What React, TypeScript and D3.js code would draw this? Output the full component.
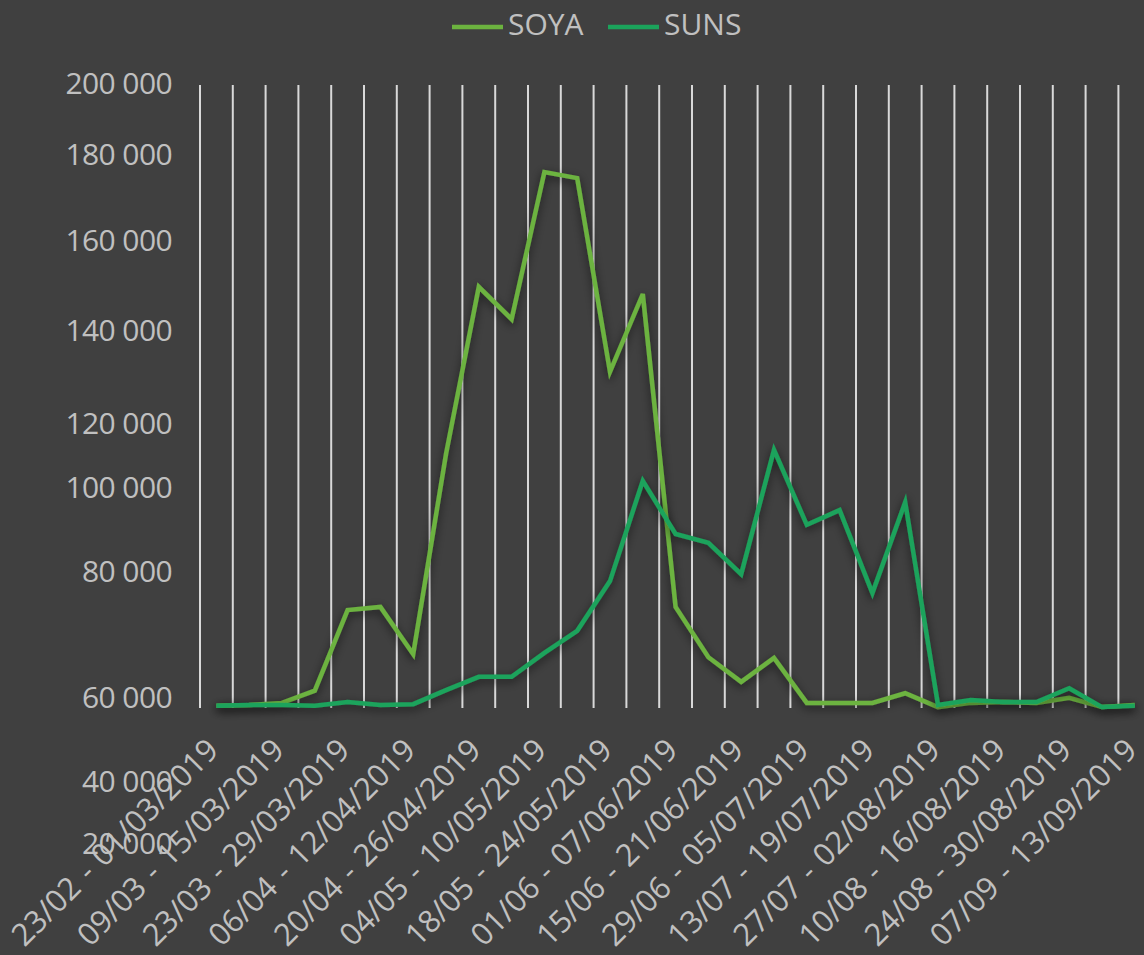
import React from 'react';
import * as d3 from 'd3';

// weekly buckets, one every 7 days
const categories: string[] = [
  '23/02 - 01/03/2019',
  '02/03 - 08/03/2019',
  '09/03 - 15/03/2019',
  '16/03 - 22/03/2019',
  '23/03 - 29/03/2019',
  '30/03 - 05/04/2019',
  '06/04 - 12/04/2019',
  '13/04 - 19/04/2019',
  '20/04 - 26/04/2019',
  '27/04 - 03/05/2019',
  '04/05 - 10/05/2019',
  '11/05 - 17/05/2019',
  '18/05 - 24/05/2019',
  '25/05 - 31/05/2019',
  '01/06 - 07/06/2019',
  '08/06 - 14/06/2019',
  '15/06 - 21/06/2019',
  '22/06 - 28/06/2019',
  '29/06 - 05/07/2019',
  '06/07 - 12/07/2019',
  '13/07 - 19/07/2019',
  '20/07 - 26/07/2019',
  '27/07 - 02/08/2019',
  '03/08 - 09/08/2019',
  '10/08 - 16/08/2019',
  '17/08 - 23/08/2019',
  '24/08 - 30/08/2019',
  '31/08 - 06/09/2019',
  '07/09 - 13/09/2019',
];

const soya: number[] = [
  57900, 58100, 58600, 61000, 73800, 74300, 66800, 110300, 149600, 142400,
  175800, 174400, 131000, 148000, 74300, 66300, 62400, 66200, 58600, 58600,
  58600, 60600, 57600, 58600, 58800, 58600, 59800, 57600, 58100,
];

const suns: number[] = [
  57900, 58100, 58100, 57900, 58800, 58100, 58300, 61100, 63200, 63200,
  67000, 70500, 78400, 101900, 88800, 86700, 79500, 111600, 91000, 94500,
  76500, 96400, 58100, 59300, 58800, 58800, 61400, 57600, 57900,
];

const yTicks: number[] = [20000, 40000, 60000, 80000, 100000, 120000, 140000, 160000, 180000, 200000];

// where each y tick sits on the page (the axis is not evenly spaced)
const yTickPos = [843, 781, 697, 571, 487, 423, 330, 240, 154, 83];

const W = 1144;
const H = 955;
const plotLeft = 200;
const step = 32.8;
const plotTop = 85;
const plotBottom = 708;

const bg = '#404040';
const textColor = '#c0c0c0';
const gridColor = '#d9d9d9';
const soyaColor = '#6cb33f';
const sunsColor = '#1ba35b';
const font = '"Open Sans", sans-serif';

const fmt = (v: number) => d3.format(',')(v).replace(/,/g, ' ');

export default function App() {
  const x = d3
    .scaleBand<string>()
    .domain(categories)
    .range([plotLeft, plotLeft + step * categories.length]);
  const y = d3.scaleLinear().domain(yTicks).range(yTickPos);

  const cx = (i: number) => (x(categories[i]) ?? 0) + x.bandwidth() / 2;
  const line = d3
    .line<number>()
    .x((_, i) => cx(i))
    .y((d) => y(d));

  const edges = categories.map((c) => x(c) ?? 0).concat([x.range()[1]]);

  const series = [
    { name: 'SOYA', values: soya, color: soyaColor, lx: 452 },
    { name: 'SUNS', values: suns, color: sunsColor, lx: 608 },
  ];

  return (
    <svg
      width={W}
      height={H}
      style={{ position: 'absolute', left: 0, top: 0, background: bg }}
      fontFamily={font}
    >
      <defs>
        <filter id="shadow" x="-10%" y="-10%" width="120%" height="120%">
          <feDropShadow dx="0" dy="3" stdDeviation="5" floodColor="#000" floodOpacity="0.6" />
        </filter>
      </defs>
      <rect width={W} height={H} fill={bg} />

      {/* vertical gridlines between categories */}
      {edges.map((ex, i) => (
        <line key={i} x1={ex} x2={ex} y1={plotTop} y2={plotBottom} stroke={gridColor} strokeWidth={2} />
      ))}

      {/* y labels */}
      {yTicks.map((t) => (
        <text key={t} x={172} y={y(t) + 11} textAnchor="end" fontSize={30} fill={textColor} letterSpacing={-0.6}>
          {fmt(t)}
        </text>
      ))}

      {/* series */}
      {series.map((s) => (
        <path
          key={s.name}
          d={line(s.values) ?? ''}
          fill="none"
          stroke={s.color}
          strokeWidth={4.5}
          strokeLinejoin="miter"
          filter="url(#shadow)"
        />
      ))}

      {/* x labels, every other week */}
      {categories.map((c, i) =>
        i % 2 === 0 ? (
          <text
            key={c}
            transform={`translate(${cx(i) + 4},752) rotate(-45)`}
            textAnchor="end"
            fontSize={31}
            fill={textColor}
            wordSpacing={2}
          >
            {c}
          </text>
        ) : null
      )}

      {/* legend */}
      {series.map((s) => (
        <g key={s.name}>
          <line x1={s.lx} x2={s.lx + 51} y1={27} y2={27} stroke={s.color} strokeWidth={4.5} />
          <text x={s.lx + 56} y={35} fontSize={30} fill={textColor}>
            {s.name}
          </text>
        </g>
      ))}
    </svg>
  );
}
